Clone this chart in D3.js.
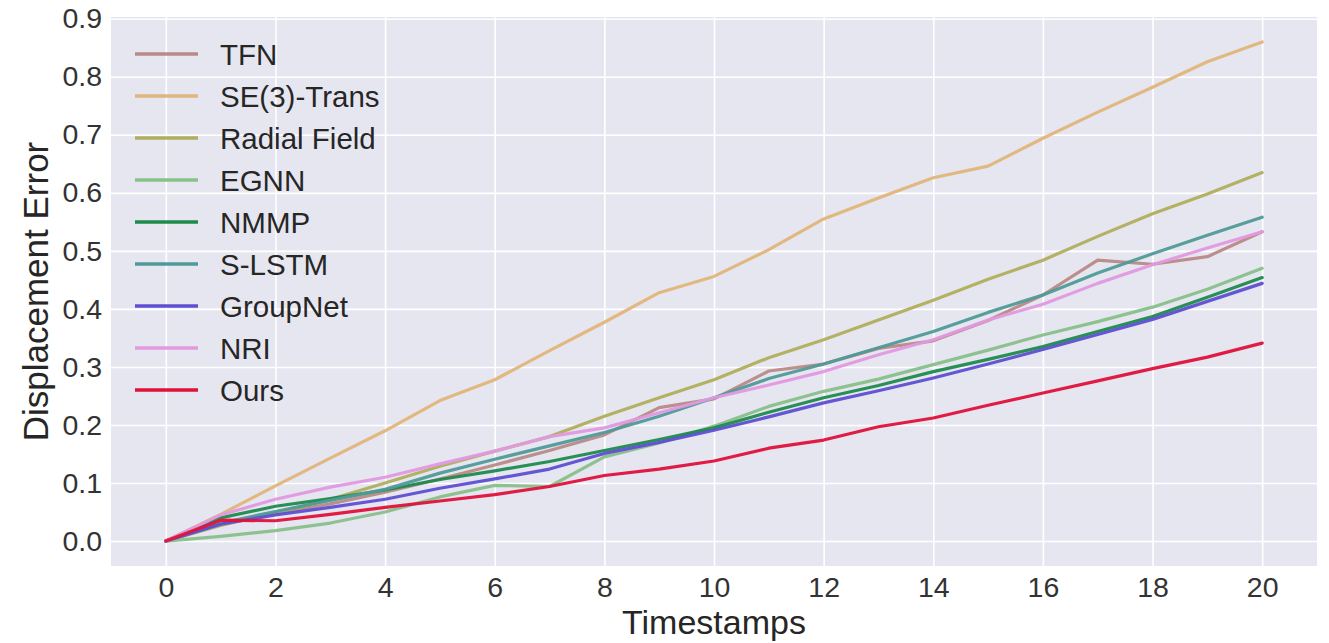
<!DOCTYPE html>
<html>
<head>
<meta charset="utf-8">
<script src="https://cdn.jsdelivr.net/npm/d3@7"></script>
<style>
  html, body { margin: 0; padding: 0; background: #ffffff; }
  svg { display: block; }
  text { font-family: "Liberation Sans", Arial, sans-serif; fill: #262626; }
</style>
</head>
<body>
<svg id="chart" width="1329" height="643"></svg>
<script>
// Prediction horizon (timestamps)
const timestamps = d3.range(0, 21);

// Method names, in legend order
const methods = ["TFN", "SE(3)-Trans", "Radial Field", "EGNN", "NMMP", "S-LSTM", "GroupNet", "NRI", "Ours"];

// Displacement error per timestamp for each method
const tfn        = [0, 0.028, 0.047, 0.064, 0.084, 0.107, 0.131, 0.156, 0.183, 0.230, 0.245, 0.293, 0.305, 0.332, 0.345, 0.380, 0.424, 0.484, 0.477, 0.490, 0.533];
const se3Trans   = [0, 0.046, 0.095, 0.143, 0.190, 0.242, 0.278, 0.328, 0.377, 0.428, 0.456, 0.502, 0.555, 0.591, 0.626, 0.646, 0.694, 0.739, 0.782, 0.826, 0.860];
const radial     = [0, 0.027, 0.049, 0.072, 0.100, 0.129, 0.155, 0.180, 0.215, 0.247, 0.278, 0.316, 0.347, 0.381, 0.415, 0.451, 0.484, 0.525, 0.564, 0.598, 0.635];
const egnn       = [0, 0.008, 0.018, 0.031, 0.050, 0.076, 0.096, 0.094, 0.145, 0.169, 0.198, 0.232, 0.258, 0.279, 0.304, 0.329, 0.355, 0.378, 0.403, 0.434, 0.470];
const nmmp       = [0, 0.040, 0.060, 0.073, 0.088, 0.106, 0.121, 0.137, 0.156, 0.175, 0.195, 0.222, 0.247, 0.268, 0.292, 0.313, 0.335, 0.361, 0.387, 0.420, 0.454];
const sLstm      = [0, 0.031, 0.051, 0.070, 0.089, 0.117, 0.141, 0.164, 0.187, 0.215, 0.247, 0.280, 0.305, 0.333, 0.361, 0.394, 0.424, 0.462, 0.495, 0.527, 0.558];
const groupNet   = [0, 0.029, 0.045, 0.058, 0.072, 0.091, 0.107, 0.124, 0.151, 0.170, 0.191, 0.214, 0.238, 0.259, 0.281, 0.305, 0.330, 0.356, 0.382, 0.413, 0.444];
const nri        = [0, 0.045, 0.072, 0.093, 0.110, 0.133, 0.155, 0.180, 0.195, 0.221, 0.247, 0.269, 0.292, 0.321, 0.347, 0.381, 0.408, 0.444, 0.476, 0.505, 0.533];
const ours       = [0, 0.036, 0.035, 0.046, 0.058, 0.069, 0.080, 0.094, 0.113, 0.124, 0.138, 0.160, 0.174, 0.197, 0.212, 0.234, 0.255, 0.276, 0.297, 0.317, 0.341];

// Axis tick labels
const xTicks = [0, 2, 4, 6, 8, 10, 12, 14, 16, 18, 20];
const yTicks = [0.0, 0.1, 0.2, 0.3, 0.4, 0.5, 0.6, 0.7, 0.8, 0.9];

const seriesValues = [tfn, se3Trans, radial, egnn, nmmp, sLstm, groupNet, nri, ours];
const colors = ["#b98a87", "#e2b57a", "#b0ae5c", "#88c08a", "#1e8a4c", "#4f9a98", "#5e4fd2", "#e199e0", "#e0113a"];

const series = methods.map((name, i) => ({
  name,
  color: colors[i],
  points: timestamps.map((t, j) => ({ t, v: seriesValues[i][j] }))
}));

const svg = d3.select("#chart");
const plot = { left: 111, right: 1317, top: 17, bottom: 566 };

const x = d3.scaleLinear().domain([-1, 21]).range([plot.left, plot.right]);
const y = d3.scaleLinear().domain([-0.043, 0.903]).range([plot.bottom, plot.top]);

// Plot background
svg.append("rect")
  .attr("x", plot.left).attr("y", plot.top)
  .attr("width", plot.right - plot.left).attr("height", plot.bottom - plot.top)
  .attr("fill", "#e6e6f0");

// Grid lines via axes with full-length ticks
const gx = svg.append("g")
  .attr("transform", `translate(0,${plot.bottom})`)
  .call(d3.axisBottom(x).tickValues(xTicks).tickSize(-(plot.bottom - plot.top)).tickFormat(d3.format("d")).tickPadding(11));
const gy = svg.append("g")
  .attr("transform", `translate(${plot.left},0)`)
  .call(d3.axisLeft(y).tickValues(yTicks).tickSize(-(plot.right - plot.left)).tickFormat(d3.format(".1f")).tickPadding(9));

[gx, gy].forEach(g => {
  g.select(".domain").remove();
  g.selectAll(".tick line").attr("stroke", "#ffffff").attr("stroke-width", 1.6);
  g.selectAll(".tick text").attr("font-size", 28.5).style("fill", "#333333");
});
gx.selectAll(".tick text").attr("dy", "0.71em");

// Series lines
const line = d3.line().x(d => x(d.t)).y(d => y(d.v));
svg.append("g").attr("class", "lines")
  .selectAll("path")
  .data(series)
  .join("path")
  .attr("d", d => line(d.points))
  .attr("fill", "none")
  .attr("stroke", d => d.color)
  .attr("stroke-width", 3.2)
  .attr("stroke-linejoin", "round")
  .attr("stroke-linecap", "round")
  .attr("stroke-opacity", 0.95);

// Legend
const legend = svg.append("g").attr("class", "legend");
const legendItems = legend.selectAll("g")
  .data(series)
  .join("g")
  .attr("transform", (d, i) => `translate(135,${54 + i * 42})`);
legendItems.append("line")
  .attr("x1", 0).attr("x2", 63)
  .attr("stroke", d => d.color)
  .attr("stroke-width", 3.5);
legendItems.append("text")
  .attr("x", 85)
  .attr("dy", "0.36em")
  .attr("font-size", 29.5)
  .text(d => d.name);

// Axis titles
svg.append("text")
  .attr("x", (plot.left + plot.right) / 2)
  .attr("y", 634)
  .attr("text-anchor", "middle")
  .attr("font-size", 34)
  .text("Timestamps");
svg.append("text")
  .attr("transform", `translate(48,${(plot.top + plot.bottom) / 2}) rotate(-90)`)
  .attr("text-anchor", "middle")
  .attr("font-size", 35)
  .text("Displacement Error");
</script>
</body>
</html>
